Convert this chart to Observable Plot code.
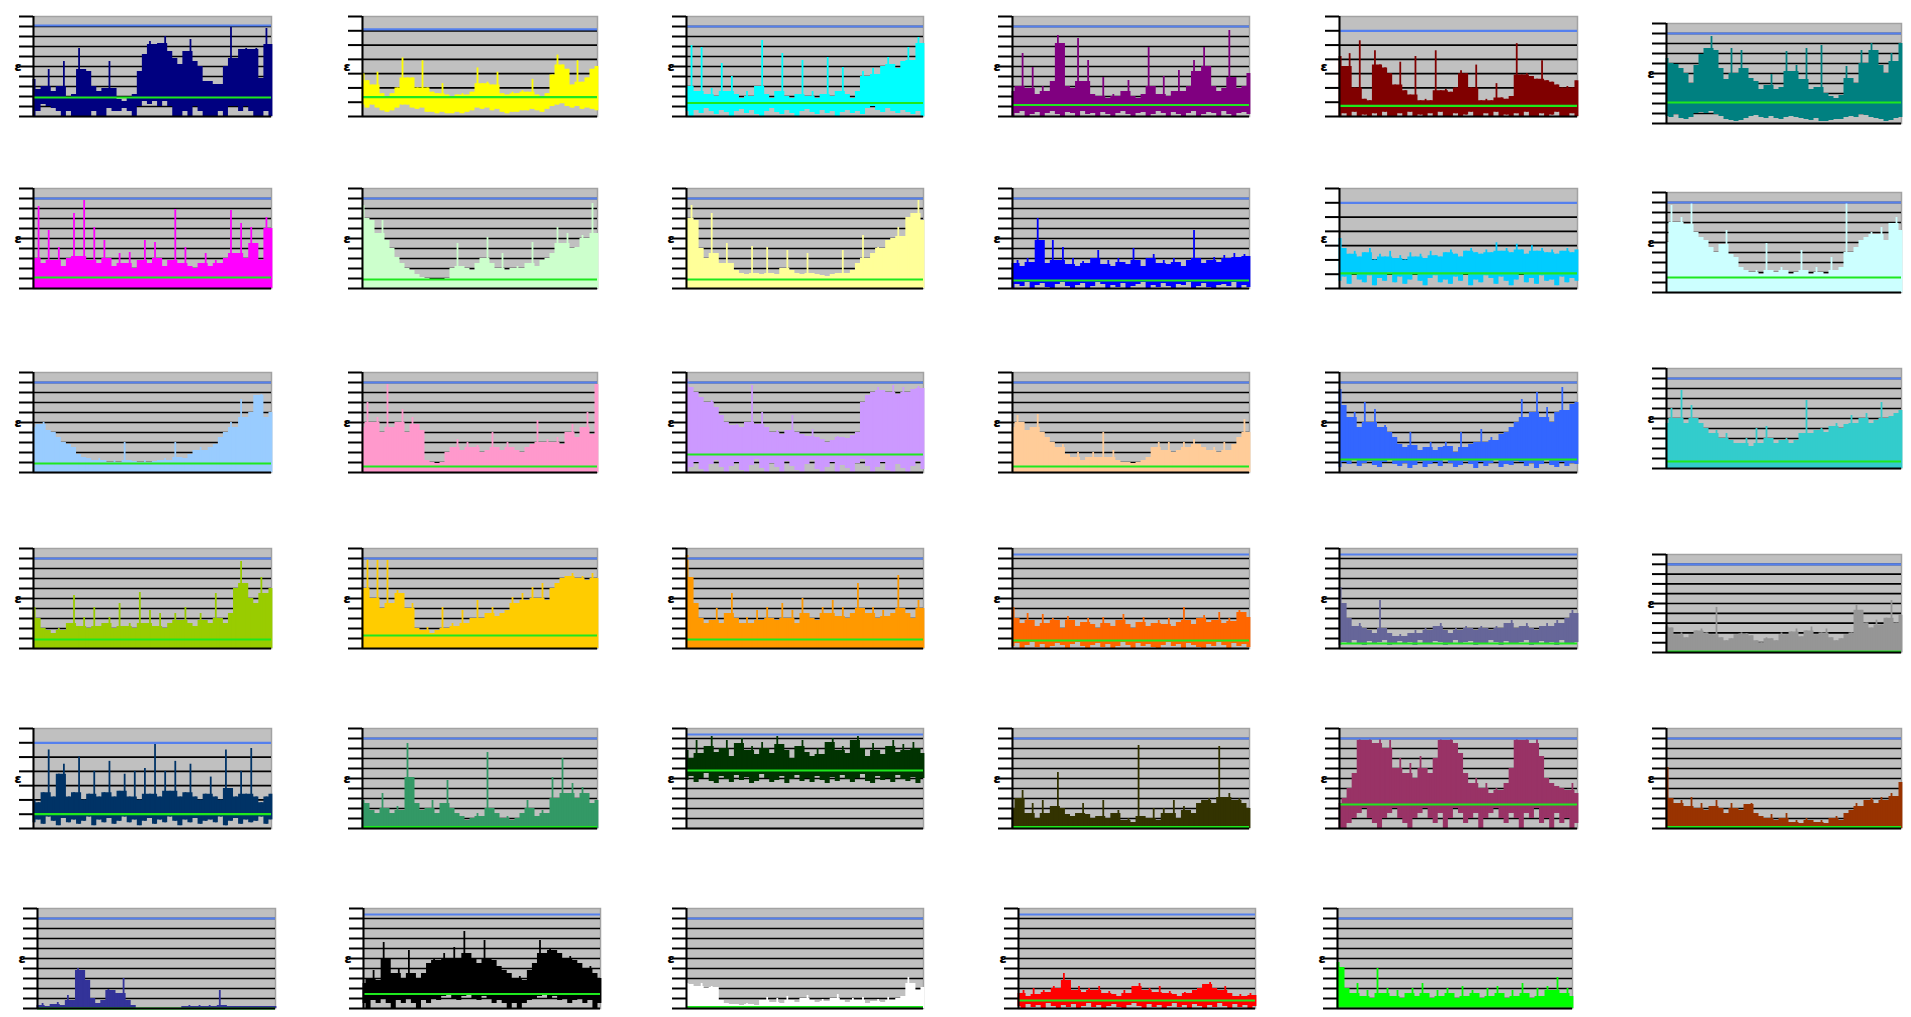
<!DOCTYPE html>
<html><head><meta charset="utf-8">
<script src="https://cdn.jsdelivr.net/npm/d3@7"></script>
<script src="https://cdn.jsdelivr.net/npm/@observablehq/plot@0.6"></script>
<style>
body{margin:0;background:#fff;width:1911px;height:1017px;position:relative;overflow:hidden;font-family:"DejaVu Sans",sans-serif}
.p{position:absolute}
.p svg{overflow:visible}
</style></head><body><div id="root"></div>
<script>
// ---- series colours, grid sizes, reference levels ----
const colors = ["#000080","#ffff00","#00ffff","#800080","#800000","#008080",
  "#ff00ff","#ccffcc","#ffff99","#0000ff","#00ccff","#ccffff",
  "#99ccff","#ff99cc","#cc99ff","#ffcc99","#3366ff","#33cccc",
  "#99cc00","#ffcc00","#ff9900","#ff6600","#666699","#969696",
  "#003366","#339966","#003300","#333300","#993366","#993300",
  "#333399","#000000","#ffffff","#ff0000","#00ff00"];
const gridCount = [10,7,10,10,7,10, 10,10,10,10,7,10, 10,10,10,10,10,10, 10,10,10,10,10,10, 7,10,10,10,10,10, 10,10,10,10,10];
const blueLevel = [91,61,90,90,60,90, 90,90,90,90,60,90, 90,90,90,90,90,90, 90,90,90,94,94,90, 60,90,94,90,90,90, 90,94,90,94,90];
const greenLevel = [19,13.5,13.5,11.5,7.5,21, 11,9,9,8,10.6,15, 9,6,18,6,13,7, 9,13,9,8,5,1, 10,1.5,58,1.5,24,1.5, 0,14.5,1.5,8,1.5];

// ---- series values (high / low per bin) ----
const hi01 = [37,27,30,47,25,30,55,18,22,68,47,45,30,25,28,55,28,17,15,18,22,45,62,75,72,73,80,65,58,52,65,77,55,50,35,35,32,32,50,89,58,67,68,67,68,38,88,72];
const lo01 = [0,5,12,10,8,5,0,5,0,0,0,0,5,0,0,8,5,5,8,5,0,10,15,12,15,10,15,10,0,0,5,0,10,5,0,0,0,5,0,10,10,5,10,5,0,0,5,0];
const hi02 = [30,25,22,31,16,14,16,20,41,27,27,20,39,20,17,16,23,15,14,15,16,15,17,34,23,24,22,31,16,15,17,16,18,17,26,15,14,16,29,43,36,33,22,39,24,27,33,35];
const lo02 = [8,6,8,6,4,3,4,6,8,8,6,5,6,3,3,2,3,2,2,3,2,3,4,6,5,6,4,5,3,2,3,3,4,4,5,4,3,5,7,8,9,7,6,7,5,6,5,4];
const hi03 = [30,71,25,69,22,28,20,53,25,40,22,18,25,20,30,76,22,18,25,63,20,18,22,56,20,25,18,22,59,20,25,49,22,18,25,45,40,48,42,50,59,52,48,55,69,56,79,73];
const lo03 = [5,0,6,3,8,5,2,6,4,0,5,7,3,6,2,0,5,8,4,2,6,3,0,5,7,4,2,6,3,5,0,4,6,3,5,2,8,10,6,4,8,5,3,6,4,2,5,0];
const hi04 = [25,30,63,28,49,22,30,25,35,81,73,30,28,78,35,56,22,20,39,18,22,20,25,36,20,18,22,69,30,22,40,20,25,46,25,30,56,45,69,50,30,25,28,86,39,28,30,43];
const lo04 = [0,3,5,0,2,4,0,3,5,2,0,4,3,0,5,2,3,0,4,2,0,3,5,2,0,3,4,0,2,5,3,0,4,2,0,3,5,0,2,4,3,0,5,2,0,3,4,2];
const hi05 = [42,35,44,20,53,12,11,46,36,34,30,22,38,18,15,42,11,12,11,46,18,19,17,20,32,30,20,36,11,12,11,23,13,12,14,51,29,30,28,26,39,25,24,22,20,21,20,25];
const lo05 = [0,2,0,3,0,1,0,2,0,3,0,0,2,0,3,0,1,0,2,0,3,0,0,2,0,1,3,0,0,2,0,3,0,1,0,2,0,3,0,0,2,0,1,3,0,0,2,0];
const hi06 = [65,60,59,55,50,40,58,69,75,87,73,55,44,75,50,73,55,45,42,34,38,49,34,36,72,52,58,44,75,34,36,78,30,27,25,28,57,45,40,73,60,80,73,58,50,70,62,80];
const lo06 = [7,6,9,5,4,6,10,11,10,12,9,7,4,3,2,3,5,7,8,6,5,7,5,4,6,7,6,5,4,3,5,2,2,3,4,4,6,7,6,9,8,6,5,4,2,3,5,6];
const hi07 = [30,82,25,58,28,41,22,30,75,32,88,28,61,25,48,30,22,35,25,36,20,28,48,25,46,30,22,28,79,25,41,22,20,25,35,22,28,25,30,78,35,65,30,61,45,28,71,60];
const hi08 = [83,70,68,55,68,48,40,31,25,20,18,14,11,10,8,9,8,10,20,45,22,20,18,25,30,51,25,20,35,18,20,22,20,25,46,22,28,30,35,61,45,55,40,41,53,50,85,55];
const hi09 = [70,83,68,40,30,75,35,25,45,25,18,15,14,42,15,14,41,15,14,20,38,18,15,14,35,15,14,13,12,14,15,38,15,18,25,53,30,35,41,40,48,50,61,52,71,75,88,68];
const hi10 = [25,28,22,30,26,70,48,25,48,28,41,24,30,22,27,25,30,38,24,28,22,30,26,24,40,28,22,30,34,25,28,24,30,26,22,28,58,30,25,28,31,26,33,30,35,31,34,32];
const lo10 = [0,4,2,6,0,3,5,1,0,4,6,2,0,3,5,0,2,6,4,0,3,1,5,0,2,4,6,0,3,1,5,2,0,4,3,6,0,2,5,1,0,3,4,2,6,0,3,1];
const hi11 = [35,28,24,26,22,25,28,20,24,22,26,21,23,20,25,22,24,21,26,23,22,25,27,24,22,26,28,25,24,27,25,32,26,28,25,31,27,24,30,26,28,25,27,24,26,28,25,27];
const lo11 = [5,8,3,10,6,4,9,2,7,5,11,4,8,3,6,10,5,2,7,9,4,6,3,8,5,10,2,6,4,9,7,3,8,5,2,6,10,4,7,3,9,5,6,2,8,4,7,5];
const hi12 = [50,87,70,75,68,89,60,55,52,45,40,48,62,38,35,25,22,20,22,18,49,22,20,25,22,18,20,42,22,18,25,20,18,35,22,25,89,40,45,52,55,60,58,65,52,69,75,62];
const hi13 = [45,48,50,42,40,35,30,28,25,18,15,14,12,14,12,10,12,10,30,12,11,10,12,10,11,12,14,12,30,15,14,18,22,25,22,25,28,35,40,50,45,73,55,60,77,78,55,60];
const hi14 = [45,70,50,55,40,88,45,50,63,40,55,48,42,12,10,9,10,20,25,33,22,30,25,27,20,22,40,25,22,30,25,22,20,25,28,52,30,33,30,35,28,40,48,35,45,60,38,88];
const hi15 = [93,85,80,75,70,72,65,57,50,47,48,45,50,87,48,60,45,40,42,38,42,57,40,38,36,43,35,33,30,32,36,35,34,37,40,70,77,80,85,82,80,87,78,85,80,83,86,84];
const lo15 = [0,5,10,3,0,8,12,5,0,6,10,2,0,7,13,4,0,9,5,0,11,6,2,0,8,12,3,0,5,10,0,7,4,0,9,13,6,0,5,10,2,0,8,4,0,6,11,3];
const hi16 = [45,57,50,42,45,58,40,35,30,25,28,18,15,20,12,15,20,15,40,15,22,12,10,10,9,10,12,15,25,30,22,30,20,22,30,25,33,28,25,22,25,20,30,22,28,35,53,40];
const hi17 = [83,67,55,60,45,70,50,63,45,47,40,35,28,25,40,27,22,25,30,22,25,30,26,20,40,25,28,30,43,30,35,32,38,40,45,50,73,55,60,80,55,65,50,60,85,62,68,70];
const lo17 = [5,10,8,12,6,9,11,7,5,10,12,8,6,9,4,7,11,5,8,10,6,12,9,5,7,11,8,4,10,6,9,12,5,8,7,11,10,6,9,4,8,12,7,5,10,6,9,8];
const hi18 = [45,60,50,78,45,63,50,45,40,35,38,30,35,28,25,25,30,22,40,25,42,30,25,28,30,25,28,35,68,35,38,40,36,42,45,40,44,53,45,50,55,45,48,66,50,52,55,58];
const hi19 = [41,30,20,18,15,20,18,25,53,22,31,20,41,22,25,31,20,45,22,25,20,56,25,38,22,35,20,25,35,28,41,25,22,35,28,25,55,30,25,35,60,87,65,50,45,71,55,60];
const hi20 = [60,90,50,88,40,88,45,58,55,40,45,20,18,21,15,18,41,20,25,22,38,25,30,48,30,35,41,32,35,38,51,45,55,48,61,50,65,48,60,65,70,72,75,70,72,68,75,70];
const hi21 = [93,71,45,30,25,28,40,25,35,55,30,25,31,25,38,28,41,30,28,45,30,38,25,50,35,30,28,41,35,48,32,41,30,35,65,40,35,41,30,38,32,35,73,40,35,30,48,40];
const hi22 = [41,30,25,35,28,22,34,25,30,28,20,32,28,22,26,30,24,20,31,25,22,28,34,24,20,26,31,22,25,28,24,30,22,26,41,28,24,30,33,26,28,36,25,30,27,38,36,31];
const lo22 = [2,5,0,3,6,1,4,0,2,5,3,0,4,6,2,0,3,5,1,4,0,2,6,3,0,5,2,4,1,0,3,6,2,4,0,5,3,1,0,4,2,6,3,0,5,2,4,1];
const hi23 = [61,45,30,22,25,20,18,15,48,20,15,12,14,12,15,18,15,20,18,22,25,18,15,20,18,22,20,18,22,20,18,22,20,25,28,20,22,25,20,18,22,25,22,28,25,30,38,35];
const lo23 = [3,6,4,8,5,3,7,4,6,8,3,5,7,4,6,3,8,5,4,7,6,3,5,8,4,6,7,3,5,4,8,6,3,7,5,4,6,8,3,5,7,4,6,3,8,5,4,6];
const hi24 = [26,25,18,20,15,18,22,24,20,18,46,15,12,14,18,20,19,17,12,10,15,14,12,20,18,21,24,16,22,26,18,20,24,15,12,14,18,20,48,43,30,25,33,28,35,53,30,38];
const hi25 = [20,18,25,55,22,38,45,22,25,50,20,24,40,22,25,47,22,26,38,22,40,20,42,24,60,22,40,26,47,22,25,45,22,20,24,36,22,20,55,28,22,40,24,56,22,18,22,24];
const lo25 = [4,6,3,8,5,2,7,4,6,3,5,8,2,6,4,7,3,5,8,4,6,2,5,7,3,6,4,8,5,2,6,4,7,3,5,6,4,8,2,5,7,3,6,4,5,8,3,6];
const hi26 = [28,25,18,15,35,20,15,22,18,85,51,25,18,20,28,15,25,48,20,15,12,8,10,15,12,76,20,15,10,12,8,10,15,28,20,12,18,15,51,30,70,35,45,30,41,35,25,28];
const hi27 = [78,70,88,75,82,92,76,80,88,72,85,90,78,82,74,86,80,75,92,84,78,70,82,88,76,72,80,74,86,90,78,82,75,88,92,80,72,85,78,74,82,88,76,84,78,86,80,75];
const lo27 = [48,52,46,50,55,47,45,52,49,46,53,48,51,45,47,54,50,46,48,52,45,49,53,47,50,46,52,48,45,51,47,53,49,46,50,54,47,45,52,48,50,46,53,49,47,51,45,50];
const hi28 = [20,30,38,15,25,10,28,15,22,56,20,14,12,15,25,14,10,12,28,10,15,18,8,10,6,83,12,10,20,8,20,15,28,10,22,18,15,25,28,30,25,82,31,35,28,30,25,20];
const hi29 = [25,30,40,55,90,88,90,85,90,80,88,60,70,55,65,50,72,60,55,70,90,88,90,85,75,55,45,50,40,45,35,40,38,45,60,90,88,90,85,90,72,50,45,42,40,38,45,35];
const lo29 = [0,0,5,10,15,20,10,5,0,10,15,20,10,5,0,10,15,20,10,5,15,0,10,20,15,5,10,15,0,10,15,20,10,5,15,10,0,15,10,20,5,10,0,15,5,10,0,5];
const hi30 = [61,30,25,28,22,31,20,25,18,22,28,20,15,25,20,18,24,25,15,12,10,14,8,10,15,6,8,5,10,8,6,8,5,10,12,8,15,18,25,22,28,30,25,31,28,35,32,46];
const hi31 = [3,5,2,4,6,3,13,8,40,38,28,10,5,8,19,18,15,30,8,3,0,0,0,0,0,0,0,0,0,2,3,2,3,2,3,2,18,3,2,2,2,2,2,2,2,2,2,2];
const hi32 = [25,30,38,28,66,50,35,40,30,58,35,30,35,45,50,48,55,50,61,50,77,55,50,45,68,50,48,42,38,35,30,32,28,38,45,68,55,60,58,55,50,52,48,45,40,42,35,30];
const lo32 = [5,0,8,5,10,5,0,8,5,10,5,0,8,5,10,8,12,15,10,8,12,15,10,8,12,10,5,8,5,0,5,0,5,8,10,12,15,10,12,8,10,5,8,10,5,8,0,5];
const hi33 = [25,24,22,25,20,22,21,8,5,4,4,3,5,4,3,8,11,6,10,5,12,8,6,10,13,8,6,9,7,10,14,8,6,10,8,11,5,7,9,6,11,8,10,12,31,25,18,21];
const hi34 = [15,18,12,20,14,18,16,22,20,35,28,18,22,16,20,18,22,15,17,14,12,18,15,22,25,18,20,16,22,15,17,14,12,16,15,18,20,24,26,20,18,22,15,12,14,12,15,13];
const lo34 = [2,0,4,1,3,0,5,2,0,3,1,4,0,2,5,1,3,0,2,4,1,0,3,5,2,0,4,1,3,0,2,5,1,3,0,4,2,0,3,1,5,2,0,4,1,3,0,2];
const hi35 = [46,41,20,15,25,12,18,10,40,15,20,12,18,10,15,20,12,25,15,10,18,12,20,15,10,22,12,18,15,10,20,12,22,15,10,18,12,25,15,10,20,12,22,18,31,15,20,12];

const highs = [hi01,hi02,hi03,hi04,hi05,hi06,hi07,hi08,hi09,hi10,hi11,hi12,hi13,hi14,hi15,hi16,hi17,hi18,
  hi19,hi20,hi21,hi22,hi23,hi24,hi25,hi26,hi27,hi28,hi29,hi30,hi31,hi32,hi33,hi34,hi35];
const lows = [lo01,lo02,lo03,lo04,lo05,lo06,null,null,null,lo10,lo11,null,null,null,lo15,null,lo17,null,
  null,null,null,lo22,lo23,null,lo25,null,lo27,null,lo29,null,null,lo32,null,lo34,null];

// ---- layout (pixel boxes of each plot area) ----
const rowTop = [16,188,372,548,728,908];
const rowBottom = [116,288,472,648,828,1008];
const col6Top = [23,192,368,554,728];
const col6Bottom = [123,292,468,652,828];
const colLeft = [33,362,686,1012,1339,1666];
const colRight = [271,597,923,1249,1577,1901];
const lastLeft = [37,363,686,1018,1337];
const lastRight = [275,600,923,1255,1572];

const ML = 22, MR = 2, MT = 2, MB = 2;
const root = document.getElementById("root");

highs.forEach((hi, k) => {
  const r = Math.floor(k / 6), c = k % 6;
  let x0, x1, y0, y1;
  if (r === 5) { x0 = lastLeft[c]; x1 = lastRight[c]; } else { x0 = colLeft[c]; x1 = colRight[c]; }
  if (c === 5) { y0 = col6Top[r]; y1 = col6Bottom[r]; } else { y0 = rowTop[r]; y1 = rowBottom[r]; }
  const n = gridCount[k], ymax = n * 10;
  const lo = lows[k];
  // body = bin top clipped to its taller neighbour; the rest of an isolated peak is drawn as a thin spike
  const data = hi.map((h, i) => {
    const l = lo ? lo[i] : 0;
    const nb = Math.max(i > 0 ? hi[i - 1] : h, i < hi.length - 1 ? hi[i + 1] : h);
    return {i, hi: h, lo: l, body: Math.max(l, Math.min(h, nb))};
  });
  const gridVals = d3.range(10, ymax, 10);
  const tickVals = d3.range(0, ymax + 1, 10);
  const svg = Plot.plot({
    width: (x1 - x0) + ML + MR,
    height: (y1 - y0) + MT + MB,
    marginLeft: ML, marginRight: MR, marginTop: MT, marginBottom: MB,
    x: {domain: [0, hi.length - 1], axis: null},
    y: {domain: [0, ymax], axis: null},
    style: {background: "transparent", overflow: "visible"},
    marks: [
      Plot.frame({fill: "#c0c0c0", stroke: "#a2a2a2", strokeWidth: 1.5}),
      Plot.ruleY(gridVals, {stroke: "#000", strokeWidth: 1.7}),
      Plot.areaY(data, {x: "i", y1: "lo", y2: "body", curve: "step", fill: colors[k]}),
      Plot.ruleX(data, {x: "i", y1: "lo", y2: "hi", stroke: colors[k], strokeWidth: 1.8}),
      Plot.ruleY([blueLevel[k]], {stroke: "#5580ee", strokeWidth: 2.2}),
      Plot.ruleY([greenLevel[k]], {stroke: "#1ee81e", strokeWidth: 2.2}),
      Plot.axisY(tickVals, {tickSize: 14, tickFormat: () => "", stroke: "#000", strokeWidth: 2, label: null}),
      Plot.ruleX([0], {stroke: "#000", strokeWidth: 2}),
      Plot.ruleY([0], {stroke: "#000", strokeWidth: 2}),
      Plot.text(["ε"], {frameAnchor: "left", dx: -19, fontSize: 13, fontWeight: 900, fill: "#000"})
    ]
  });
  const div = document.createElement("div");
  div.className = "p";
  div.style.left = (x0 - ML) + "px";
  div.style.top = (y0 - MT) + "px";
  div.appendChild(svg);
  root.appendChild(div);
});
</script>
</body></html>
